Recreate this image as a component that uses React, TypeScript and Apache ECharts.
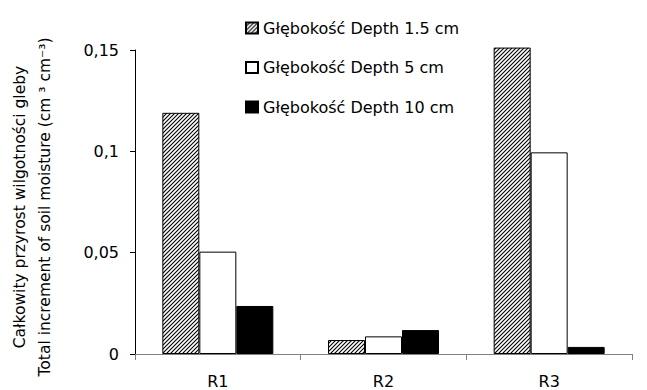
import React, { useEffect, useRef } from "react";
import * as echarts from "echarts";

const categories = ["R1", "R2", "R3"];
const depth15 = [0.119, 0.0069, 0.1512];
const depth5 = [0.0505, 0.0087, 0.0995];
const depth10 = [0.0237, 0.0118, 0.0035];
const seriesNames = [
  "Głębokość Depth 1.5 cm",
  "Głębokość Depth 5 cm",
  "Głębokość Depth 10 cm",
];
const yTitle1 = "Całkowity przyrost wilgotności gleby";
const yTitle2 = "Total increment of soil moisture (cm ³ cm⁻³)";

const FONT = "DejaVu Sans";

function makeHatch(): HTMLCanvasElement {
  const c = document.createElement("canvas");
  c.width = 4;
  c.height = 4;
  const ctx = c.getContext("2d")!;
  ctx.fillStyle = "#ffffff";
  ctx.fillRect(0, 0, 4, 4);
  ctx.strokeStyle = "#000000";
  ctx.lineWidth = 1.1;
  ctx.beginPath();
  ctx.moveTo(-1, 5);
  ctx.lineTo(5, -1);
  ctx.moveTo(-1, 1);
  ctx.lineTo(1, -1);
  ctx.moveTo(3, 5);
  ctx.lineTo(5, 3);
  ctx.stroke();
  return c;
}

export default function App() {
  const ref = useRef<HTMLDivElement>(null);
  useEffect(() => {
    if (!ref.current) return;
    const chart = echarts.init(ref.current, null, { renderer: "svg" });
    const hatch = makeHatch();
    const barBase = {
      type: "bar" as const,
      barWidth: 37,
      barGap: "0%",
      clip: false,
    };
    chart.setOption({
      animation: false,
      backgroundColor: "#ffffff",
      textStyle: { fontFamily: FONT },
      legend: {
        orient: "vertical",
        left: 240,
        top: 15,
        itemWidth: 12,
        itemHeight: 11,
        itemGap: 23.5,
        icon: "rect",
        textStyle: {
          fontFamily: FONT,
          fontSize: 16,
          lineHeight: 16,
          color: "#000",
        },
        data: seriesNames,
      },
      grid: { left: 135, right: 15, top: 50, bottom: 36 },
      xAxis: {
        type: "category",
        data: categories,
        axisLine: { lineStyle: { color: "#808080", width: 1 } },
        axisTick: { show: true, length: 6, lineStyle: { color: "#808080" } },
        axisLabel: {
          color: "#000",
          fontFamily: FONT,
          fontSize: 16,
          margin: 19,
        },
      },
      yAxis: {
        type: "value",
        min: 0,
        max: 0.15,
        interval: 0.05,
        axisLine: { show: true, lineStyle: { color: "#000", width: 1 } },
        axisTick: { show: true, length: 5, lineStyle: { color: "#000" } },
        splitLine: { show: false },
        axisLabel: {
          color: "#000",
          fontFamily: FONT,
          fontSize: 16,
          margin: 16,
          formatter: (v: number) =>
            String(Math.round(v * 100) / 100).replace(".", ","),
        },
      },
      graphic: [
        {
          type: "text",
          x: 20,
          y: 207,
          rotation: Math.PI / 2,
          style: {
            text: yTitle1,
            fontFamily: FONT,
            fontSize: 15.5,
            fill: "#000",
            align: "center",
            verticalAlign: "middle",
          },
        },
        {
          type: "text",
          x: 45,
          y: 207,
          rotation: Math.PI / 2,
          style: {
            text: yTitle2,
            fontFamily: FONT,
            fontSize: 15.5,
            fill: "#000",
            align: "center",
            verticalAlign: "middle",
          },
        },
      ],
      series: [
        {
          ...barBase,
          name: seriesNames[0],
          data: depth15,
          itemStyle: {
            color: { image: hatch, repeat: "repeat" },
            borderColor: "#000",
            borderWidth: 1,
          },
        },
        {
          ...barBase,
          name: seriesNames[1],
          data: depth5,
          itemStyle: { color: "#ffffff", borderColor: "#000", borderWidth: 1 },
        },
        {
          ...barBase,
          name: seriesNames[2],
          data: depth10,
          itemStyle: { color: "#000000", borderColor: "#000", borderWidth: 1 },
        },
      ],
    });
    return () => chart.dispose();
  }, []);
  return (
    <div
      ref={ref}
      style={{
        position: "fixed",
        left: 0,
        top: 0,
        width: 647,
        height: 390,
        background: "#fff",
      }}
    />
  );
}
